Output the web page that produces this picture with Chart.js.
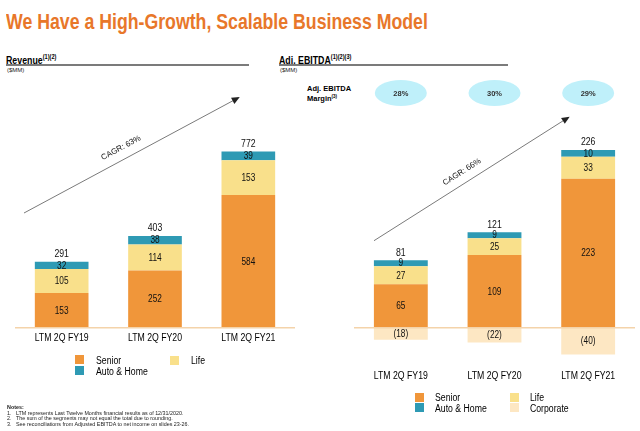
<!DOCTYPE html>
<html>
<head>
<meta charset="utf-8">
<script src="https://cdn.jsdelivr.net/npm/chart.js@4.4.1/dist/chart.umd.min.js"></script>
<style>
  html, body { margin:0; padding:0; background:#fff; }
  body { width:640px; height:431px; position:relative; overflow:hidden; font-family:"Liberation Sans", Arial, sans-serif; color:#000; }
  .abs { position:absolute; white-space:nowrap; transform-origin:0 0; }
  #title { left:6px; top:11px; font-size:22px; line-height:22px; font-weight:bold; color:#E8772A; transform:scaleX(0.805); }
  .hdr { font-size:11px; line-height:11px; font-weight:bold; top:51px; transform:scaleX(0.8); }
  .hdr sup { font-size:7px; vertical-align:5px; font-weight:bold; }
  .rule { height:2px; background:#7b7b7b; top:64px; }
  .mm { font-size:6px; line-height:6px; top:67px; color:#222; }
  .leg { font-size:10px; line-height:10px; transform:scaleX(0.87); }
  .sw { width:9px; height:9px; position:absolute; }
  .notes { font-size:5.6px; line-height:5.6px; color:#222; left:7px; transform:scaleX(0.96); }
  canvas { position:absolute; top:0; }
</style>
</head>
<body>
<div id="title" class="abs">We Have a High-Growth, Scalable Business Model</div>

<div class="abs hdr" style="left:6px;">Revenue<sup>(1)(2)</sup></div>
<div class="abs rule" style="left:6px;width:243px;"></div>
<div class="abs mm" style="left:7px;">($MM)</div>

<div class="abs hdr" style="left:279px;">Adj. EBITDA<sup>(1)(2)(3)</sup></div>
<div class="abs rule" style="left:279px;width:229px;"></div>
<div class="abs mm" style="left:280px;">($MM)</div>

<div class="abs" style="left:307px;top:85px;font-size:7.5px;line-height:7.5px;font-weight:bold;">Adj. EBITDA</div>
<div class="abs" style="left:307px;top:92.5px;font-size:7.5px;line-height:7.5px;font-weight:bold;">Margin<sup style="font-size:4.5px;vertical-align:3px;">(3)</sup></div>

<canvas id="revChart" width="320" height="431" style="left:0;"></canvas>
<canvas id="ebChart" width="320" height="431" style="left:320px;"></canvas>

<!-- Legends -->
<div class="sw" style="left:75px;top:355px;background:#F0963A;"></div>
<div class="abs leg" style="left:96px;top:356px;">Senior</div>
<div class="sw" style="left:75px;top:366px;background:#2E9AB4;"></div>
<div class="abs leg" style="left:96px;top:367px;">Auto &amp; Home</div>
<div class="sw" style="left:170px;top:356px;background:#F9E08B;"></div>
<div class="abs leg" style="left:191px;top:356px;">Life</div>

<div class="sw" style="left:415px;top:393px;background:#F0963A;"></div>
<div class="abs leg" style="left:435px;top:393px;">Senior</div>
<div class="sw" style="left:415px;top:403px;background:#2E9AB4;"></div>
<div class="abs leg" style="left:435px;top:404px;">Auto &amp; Home</div>
<div class="sw" style="left:510px;top:393px;background:#F9E08B;"></div>
<div class="abs leg" style="left:530px;top:393px;">Life</div>
<div class="sw" style="left:510px;top:403px;background:#FDE7C3;"></div>
<div class="abs leg" style="left:530px;top:404px;">Corporate</div>

<!-- Notes -->
<div class="abs notes" style="top:405px;font-weight:bold;">Notes:</div>
<div class="abs notes" style="top:410.5px;">1.&nbsp;&nbsp;&nbsp;LTM represents Last Twelve Months financial results as of 12/31/2020.</div>
<div class="abs notes" style="top:416px;">2.&nbsp;&nbsp;&nbsp;The sum of the segments may not equal the total due to rounding.</div>
<div class="abs notes" style="top:421.5px;">3.&nbsp;&nbsp;&nbsp;See reconciliations from Adjusted EBITDA to net income on slides 23-26.</div>

<script>
// ---------------- DATA ----------------
const categories = ["LTM 2Q FY19", "LTM 2Q FY20", "LTM 2Q FY21"];

const revSenior = [153, 252, 584];
const revLife   = [105, 114, 153];
const revAuto   = [32, 38, 39];
const revTotal  = [291, 403, 772];
const revCAGR   = "CAGR: 63%";

const ebSenior    = [65, 109, 223];
const ebLife      = [27, 25, 33];
const ebAuto      = [9, 9, 10];
const ebCorporate = [-18, -22, -40];
const ebTotal     = [81, 121, 226];
const ebMargin    = ["28%", "30%", "29%"];
const ebCAGR      = "CAGR: 66%";

// ---------------- STYLE ----------------
const C_SENIOR = "#F0963A", C_LIFE = "#F9E08B", C_AUTO = "#2E9AB4", C_CORP = "#FDE7C3";
const FONT = '"Liberation Sans", Arial, sans-serif';
const SQUEEZE = 0.83;
Chart.defaults.font.family = FONT;
Chart.defaults.color = "#000";

function fmt(v) { return v < 0 ? "(" + Math.abs(v) + ")" : String(v); }
function txt(ctx, s, x, y, sx) {
  ctx.save(); ctx.translate(x, y); ctx.scale(sx, 1); ctx.fillText(s, 0, 0); ctx.restore();
}

// Plugin: zero line, category labels, segment labels, totals, arrows, margins
function makePlugin(totals, arrow, margins, labelY) {
  return {
    id: "decor",
    afterDatasetsDraw(chart) {
      const ctx = chart.ctx, x = chart.scales.x, y = chart.scales.y;
      const area = chart.chartArea;
      const y0 = y.getPixelForValue(0);
      ctx.save();
      // zero line
      ctx.strokeStyle = "#F4D3AA";
      ctx.lineWidth = 1.5;
      ctx.beginPath();
      ctx.moveTo(area.left, y0); ctx.lineTo(area.right, y0);
      ctx.stroke();
      ctx.textAlign = "center";
      ctx.textBaseline = "middle";
      // category labels (x axis)
      ctx.fillStyle = "#000";
      ctx.font = "10.5px " + FONT;
      chart.data.labels.forEach((lab, i) => txt(ctx, lab, x.getPixelForValue(i), labelY, SQUEEZE));
      // segment labels
      ctx.fillStyle = "#111";
      ctx.font = "10px " + FONT;
      chart.data.datasets.forEach((ds, di) => {
        const meta = chart.getDatasetMeta(di);
        meta.data.forEach((bar, i) => {
          const cy = (bar.y + bar.base) / 2;
          txt(ctx, fmt(ds.data[i]), bar.x, cy + 0.5, SQUEEZE);
        });
      });
      // totals
      ctx.font = "10.5px " + FONT;
      totals.forEach((t, i) => {
        let top = y0;
        chart.data.datasets.forEach((ds, di) => {
          const bar = chart.getDatasetMeta(di).data[i];
          if (ds.data[i] > 0) top = Math.min(top, bar.y);
        });
        txt(ctx, String(t), x.getPixelForValue(i), top - 7.5, SQUEEZE);
      });
      // CAGR arrow
      const [x1, y1, x2, y2] = arrow.pts;
      ctx.strokeStyle = "#7a7a7a";
      ctx.lineWidth = 1;
      ctx.beginPath(); ctx.moveTo(x1, y1); ctx.lineTo(x2, y2); ctx.stroke();
      const ang = Math.atan2(y2 - y1, x2 - x1);
      ctx.fillStyle = "#222";
      ctx.save();
      ctx.translate(x2, y2); ctx.rotate(ang);
      ctx.beginPath(); ctx.moveTo(2, 0); ctx.lineTo(-6, -3.5); ctx.lineTo(-6, 3.5); ctx.closePath(); ctx.fill();
      ctx.restore();
      ctx.save();
      ctx.translate(arrow.lx, arrow.ly); ctx.rotate(ang);
      ctx.font = "8px " + FONT;
      ctx.fillStyle = "#111";
      ctx.fillText(arrow.text, 0, 0);
      ctx.restore();
      // margin ovals
      if (margins) {
        margins.forEach((m, i) => {
          const cx = x.getPixelForValue(i);
          ctx.fillStyle = "#BFF0FA";
          ctx.beginPath(); ctx.ellipse(cx, 93, 26, 13, 0, 0, Math.PI * 2); ctx.fill();
          ctx.fillStyle = "#333";
          ctx.font = "bold 7.5px " + FONT;
          ctx.fillText(m, cx, 93.5);
        });
      }
      ctx.restore();
    }
  };
}

function baseOptions(min, max, pad) {
  return {
    responsive: false,
    devicePixelRatio: 1,
    animation: false,
    layout: { padding: pad },
    plugins: { legend: { display: false }, tooltip: { enabled: false } },
    datasets: { bar: { barPercentage: 0.575, categoryPercentage: 1, borderWidth: 0 } },
    scales: {
      x: { stacked: true, display: false },
      y: { stacked: true, display: false, min: min, max: max }
    }
  };
}

new Chart(document.getElementById("revChart"), {
  type: "bar",
  data: {
    labels: categories,
    datasets: [
      { label: "Senior", data: revSenior, backgroundColor: C_SENIOR },
      { label: "Life", data: revLife, backgroundColor: C_LIFE },
      { label: "Auto & Home", data: revAuto, backgroundColor: C_AUTO }
    ]
  },
  options: baseOptions(0, 1000, { left: 15, right: 25, top: 100.5, bottom: 103.3 }),
  plugins: [makePlugin(revTotal, { pts: [24, 213, 238, 98], lx: 121, ly: 148, text: revCAGR }, null, 338)]
});

new Chart(document.getElementById("ebChart"), {
  type: "bar",
  data: {
    labels: categories,
    datasets: [
      { label: "Senior", data: ebSenior, backgroundColor: C_SENIOR },
      { label: "Life", data: ebLife, backgroundColor: C_LIFE },
      { label: "Auto & Home", data: ebAuto, backgroundColor: C_AUTO },
      { label: "Corporate", data: ebCorporate, backgroundColor: C_CORP }
    ]
  },
  options: baseOptions(-60, 300, { left: 34, right: 5, top: 127.3, bottom: 63.2 }),
  plugins: [makePlugin(ebTotal, { pts: [54, 240.7, 248, 117.7], lx: 142, ly: 172, text: ebCAGR }, ebMargin, 376.5)]
});
</script>
</body>
</html>
